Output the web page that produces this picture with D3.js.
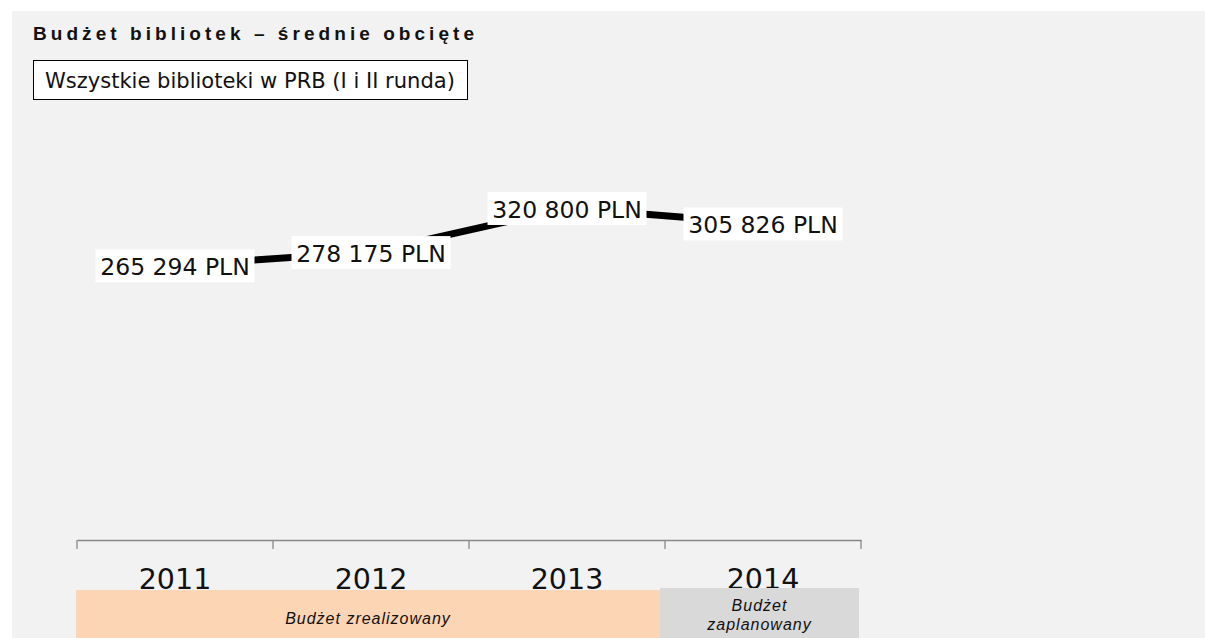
<!DOCTYPE html>
<html><head><meta charset="utf-8">
<script src="https://cdn.jsdelivr.net/npm/d3@7"></script>
<style>
html,body{margin:0;padding:0;background:#fff;}
svg{display:block;}
</style></head>
<body>
<svg id="chart" width="1205" height="638"></svg>
<script>
const title = "Budżet bibliotek – średnie obcięte";
const subtitle = "Wszystkie biblioteki w PRB (I i II runda)";
const years = ["2011", "2012", "2013", "2014"];
const values = [265294, 278175, 320800, 305826];
const valueLabels = ["265 294 PLN", "278 175 PLN", "320 800 PLN", "305 826 PLN"];
const periodLabels = [
  {label: ["Budżet zrealizowany"], from: "2011", to: "2013", color: "#fcd5b5"},
  {label: ["Budżet", "zaplanowany"], from: "2014", to: "2014", color: "#d9d9d9"}
];

const svg = d3.select("#chart");
svg.append("rect").attr("x", 12).attr("y", 11).attr("width", 1193).attr("height", 627).attr("fill", "#f2f2f2");

// title
const t = svg.append("text").attr("x", 33).attr("y", 40)
  .attr("font-family", "Liberation Sans, Arial, sans-serif").attr("font-weight", "bold")
  .attr("font-size", 19).attr("fill", "#111").text(title);
const tw = t.node().getComputedTextLength();
t.attr("letter-spacing", Math.max(0, (441 - tw) / (title.length - 1)).toFixed(3));

// subtitle box
svg.append("rect").attr("x", 33.5).attr("y", 60.5).attr("width", 434).attr("height", 39)
  .attr("fill", "#fff").attr("stroke", "#000").attr("stroke-width", 1);
const st = svg.append("text").attr("x", 45).attr("y", 87.5)
  .attr("font-family", "DejaVu Sans, Verdana, sans-serif").attr("font-size", 18).attr("fill", "#111").text(subtitle);
const sw = st.node().getComputedTextLength();
st.attr("font-size", (18 * 410 / sw).toFixed(2));

const x = d3.scaleBand().domain(years).range([77, 861]).padding(0);
const y = d3.scaleLinear().domain([0, 400000]).range([540, 126]);

// axis
const axis = svg.append("g").attr("transform", "translate(0,540)")
  .call(d3.axisBottom(x).tickSize(0).tickFormat(""));
axis.select(".domain").attr("stroke", "#888").attr("stroke-width", 1.3);
const bounds = years.map(d => x(d)).concat([x(years[years.length - 1]) + x.bandwidth()]);
svg.append("g").selectAll("line").data(bounds).join("line")
  .attr("x1", d => d).attr("x2", d => d).attr("y1", 540).attr("y2", 549)
  .attr("stroke", "#888").attr("stroke-width", 1.3);

// year labels
svg.append("g").selectAll("text").data(years).join("text")
  .attr("x", d => x(d) + x.bandwidth() / 2).attr("y", 589)
  .attr("text-anchor", "middle").attr("font-family", "DejaVu Sans, Verdana, sans-serif")
  .attr("font-size", 28.5).attr("fill", "#111").text(d => d);

// period boxes
const pg = svg.append("g");
periodLabels.forEach((p, i) => {
  const x0 = x(p.from) - (i === 0 ? 1 : 5);
  const x1 = x(p.to) + x.bandwidth() - (i === 0 ? 5 : 2);
  const top = i === 0 ? 590 : 588;
  pg.append("rect").attr("x", x0).attr("y", top).attr("width", x1 - x0).attr("height", 638 - top).attr("fill", p.color);
  const cx = (x0 + x1) / 2;
  const txt = pg.append("text").attr("text-anchor", "middle")
    .attr("font-family", "Liberation Sans, Arial, sans-serif").attr("font-style", "italic")
    .attr("font-size", 16).attr("letter-spacing", 1).attr("fill", "#111");
  if (p.label.length === 1) {
    txt.append("tspan").attr("x", cx).attr("y", 624).text(p.label[0]);
  } else {
    p.label.forEach((l, j) => txt.append("tspan").attr("x", cx).attr("y", 611 + j * 19).text(l));
  }
});

// line
const cxv = d => x(d) + x.bandwidth() / 2;
const pts = years.map((d, i) => [cxv(d), y(values[i])]);
svg.append("path").datum(pts).attr("d", d3.line())
  .attr("fill", "none").attr("stroke", "#000").attr("stroke-width", 7);

// value labels
const lg = svg.append("g").selectAll("g").data(pts).join("g")
  .attr("transform", d => `translate(${d[0]},${d[1]})`);
lg.append("rect").attr("x", -79.5).attr("y", -16).attr("width", 159).attr("height", 33).attr("fill", "#fff");
lg.append("text").attr("text-anchor", "middle").attr("y", 10)
  .attr("font-family", "DejaVu Sans, Verdana, sans-serif").attr("font-size", 23.5).attr("fill", "#111")
  .text((d, i) => valueLabels[i]);
</script>
</body></html>
